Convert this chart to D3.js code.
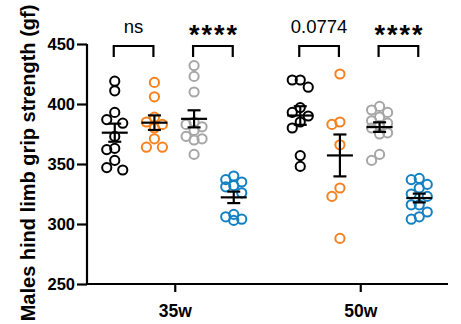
<!DOCTYPE html>
<html>
<head>
<meta charset="utf-8">
<script src="https://cdn.jsdelivr.net/npm/d3@7"></script>
<style>
  body { margin: 0; background: #fff; }
  text { font-family: "Liberation Sans", Arial, sans-serif; }
</style>
</head>
<body>
<div id="chart"></div>
<script>
const timepoints = ['35w', '50w']
const groups = ['black', 'orange', 'gray', 'blue']
const colors = ['#000000', '#f5821f', '#a6a6a6', '#1380c3']

// hind limb grip strength (gf), one array per group and timepoint
const black35 = [419, 411, 393, 387, 384, 373, 363, 362, 353, 347, 345]
const orange35 = [418, 406, 389, 385, 383, 380, 371, 364, 364]
const gray35 = [432, 423, 410, 385, 383, 381, 378, 373, 371, 370, 358]
const blue35 = [340, 337, 335, 332, 331, 326, 308, 306, 304, 303]
const black50 = [420, 420, 414, 397, 393, 390, 385, 380, 357, 348]
const orange50 = [425, 385, 383, 366, 330, 323, 288]
const gray50 = [398, 395, 393, 389, 386, 384, 382, 380, 376, 375, 358, 353]
const blue50 = [338, 337, 333, 330, 325, 323, 316, 316, 310, 306, 304]

const yTicks = [250, 300, 350, 400, 450]

// significance brackets
const compTimes = ['35w', '35w', '50w', '50w']
const compFrom = ['black', 'gray', 'black', 'gray']
const compTo = ['orange', 'blue', 'orange', 'blue']
const compLabels = ['ns', '****', '0.0774', '****']

const series = [
  { time: '35w', group: 'black', values: black35 },
  { time: '35w', group: 'orange', values: orange35 },
  { time: '35w', group: 'gray', values: gray35 },
  { time: '35w', group: 'blue', values: blue35 },
  { time: '50w', group: 'black', values: black50 },
  { time: '50w', group: 'orange', values: orange50 },
  { time: '50w', group: 'gray', values: gray50 },
  { time: '50w', group: 'blue', values: blue50 }
]

const width = 461, height = 324

const svg = d3.select('#chart').append('svg')
  .attr('width', width)
  .attr('height', height)

svg.append('rect').attr('width', width).attr('height', height).attr('fill', '#fff')

const y = d3.scaleLinear().domain([250, 450]).range([284, 44])
const x = d3.scalePoint().domain(timepoints).range([87, 448]).padding(0.473)
const xGroup = d3.scalePoint().domain(groups).range([-60, 59])
const color = d3.scaleOrdinal().domain(groups).range(colors)

const cx = (t, g) => x(t) + xGroup(g)

// compact swarm: three columns, pick the least crowded one
function swarm (values, center) {
  const placed = []
  const offsets = [0, -8, 8]
  return values.slice().sort((a, b) => b - a).map(v => {
    const py = y(v)
    let best = 0, bestD = -1
    for (const o of offsets) {
      const d = placed.length ? d3.min(placed, p => Math.hypot(p.x - (center + o), p.y - py)) : 99
      if (d >= 9) { best = o; bestD = d; break }
      if (d > bestD) { best = o; bestD = d }
    }
    placed.push({ x: center + best, y: py })
    return { v: v, x: center + best, y: py }
  })
}

// axes
const yAxis = svg.append('g')
  .attr('transform', 'translate(87,0)')
  .call(d3.axisLeft(y).tickValues(yTicks).tickSize(10).tickPadding(2))
yAxis.select('.domain').attr('stroke', '#000').attr('stroke-width', 2.2)
  .attr('d', `M0,${y(450)}V${y(250)}`)
yAxis.selectAll('.tick line').attr('stroke-width', 2.2)
yAxis.selectAll('.tick text')
  .attr('font-size', '16.5px')
  .attr('font-weight', 'bold')
  .attr('fill', '#000')
  .style('font-family', '"Liberation Sans", Arial, sans-serif')

const xAxis = svg.append('g')
  .attr('transform', `translate(0,${y(250)})`)
  .call(d3.axisBottom(x).tickSize(8).tickPadding(13))
xAxis.select('.domain').attr('stroke-width', 2.2).attr('d', 'M87,0H448')
xAxis.selectAll('.tick line').attr('stroke-width', 2.2)
xAxis.selectAll('.tick text')
  .attr('font-size', '17.5px')
  .attr('font-weight', 'bold')
  .attr('fill', '#000')
  .style('font-family', '"Liberation Sans", Arial, sans-serif')

svg.append('text')
  .attr('transform', 'translate(35,163) rotate(-90)')
  .attr('text-anchor', 'middle')
  .attr('font-size', '20px')
  .attr('font-weight', 'bold')
  .text('Males hind limb grip strength (gf)')

// points
series.forEach(s => {
  const pts = swarm(s.values, cx(s.time, s.group))
  svg.append('g').selectAll('circle')
    .data(pts)
    .enter()
    .append('circle')
    .attr('cx', d => d.x)
    .attr('cy', d => d.y)
    .attr('r', 4.6)
    .attr('fill', 'none')
    .attr('stroke', color(s.group))
    .attr('stroke-width', 2)
})

// mean +- SEM
series.forEach(s => {
  const m = d3.mean(s.values)
  const sem = d3.deviation(s.values) / Math.sqrt(s.values.length)
  const c = cx(s.time, s.group)
  const g = svg.append('g').attr('stroke', '#000').attr('stroke-width', 2.2)
  g.append('line').attr('x1', c - 13).attr('x2', c + 13).attr('y1', y(m)).attr('y2', y(m))
  g.append('line').attr('x1', c).attr('x2', c).attr('y1', y(m - sem)).attr('y2', y(m + sem))
  g.append('line').attr('x1', c - 6.5).attr('x2', c + 6.5).attr('y1', y(m + sem)).attr('y2', y(m + sem))
  g.append('line').attr('x1', c - 6.5).attr('x2', c + 6.5).attr('y1', y(m - sem)).attr('y2', y(m - sem))
})

// brackets
compLabels.forEach((lab, i) => {
  const x1 = cx(compTimes[i], compFrom[i]) - 1
  const x2 = cx(compTimes[i], compTo[i]) - 1
  svg.append('path')
    .attr('d', `M${x1},57V46H${x2}V57`)
    .attr('fill', 'none')
    .attr('stroke', '#000')
    .attr('stroke-width', 2.2)
  const stars = lab.startsWith('*')
  svg.append('text')
    .attr('x', (x1 + x2) / 2 + (stars ? 1 : 0))
    .attr('y', stars ? 44 : 33)
    .attr('text-anchor', 'middle')
    .attr('font-size', stars ? '27px' : '18.5px')
    .attr('font-weight', stars ? 'bold' : 'normal')
    .attr('letter-spacing', stars ? '2px' : null)
    .text(lab)
})
</script>
</body>
</html>
